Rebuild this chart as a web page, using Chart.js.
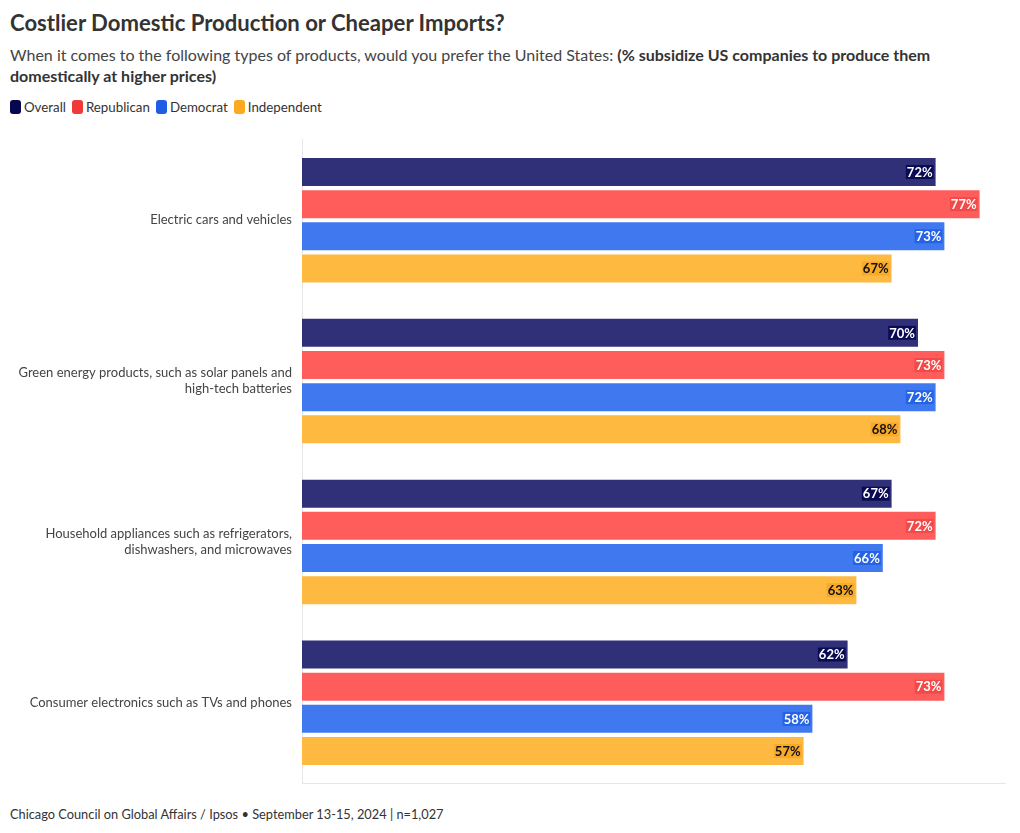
<!DOCTYPE html>
<html>
<head>
<meta charset="utf-8">
<script src="https://cdn.jsdelivr.net/npm/chart.js@4"></script>
<style>
  body { margin: 0; background: #fff; font-family: "Source Sans Pro", Lato, "Noto Sans", sans-serif; color: #333; }
  .wrap { position: relative; width: 1020px; height: 833px; }
  .title { position: absolute; left: 10px; top: 9px; font-size: 22.1px; font-weight: 700; color: #333; }
  .sub { position: absolute; left: 10px; top: 44px; font-size: 16px; line-height: 21px; color: #444; }
  .sub b { color: #333; }
  .legend { position: absolute; left: 10px; top: 99px; font-size: 13.3px; color: #333; display: flex; gap: 6px; }
  .legend span { display: inline-flex; align-items: center; }
  .legend i { display: inline-block; width: 11px; height: 14px; border-radius: 3px; margin-right: 3px; }
  .foot { position: absolute; left: 10px; top: 806px; font-size: 12.8px; color: #333; }
  .box { position: absolute; left: 0; top: 121.5px; width: 1006px; height: 679px; }
</style>
</head>
<body>
<div class="wrap">
  <div class="title">Costlier Domestic Production or Cheaper Imports?</div>
  <div class="sub">When it comes to the following types of products, would you prefer the United States: <b>(% subsidize US companies to produce them<br>domestically at higher prices)</b></div>
  <div class="legend" id="legend"></div>
  <div class="box"><canvas id="chart"></canvas></div>
  <div class="foot">Chicago Council on Global Affairs / Ipsos • September 13-15, 2024 | n=1,027</div>
</div>
<script>
const categories = [
  ["Electric cars and vehicles"],
  ["Green energy products, such as solar panels and", "high-tech batteries"],
  ["Household appliances such as refrigerators,", "dishwashers, and microwaves"],
  ["Consumer electronics such as TVs and phones"]
];
const seriesNames = ["Overall", "Republican", "Democrat", "Independent"];
const overall = [72, 70, 67, 62];
const republican = [77, 73, 72, 73];
const democrat = [73, 72, 66, 58];
const independent = [67, 68, 63, 57];

const barColors = ["#303079", "#ff5d5b", "#4079ef", "#fdb940"];
const legendColors = ["#07074f", "#f03a3a", "#1f5de6", "#fcab20"];
const labelBg = ["#0b0b55", "#f24a48", "#2563e6", "#f8a928"];
const labelText = ["#fff", "#fff", "#fff", "#111"];

// legend
const legendEl = document.getElementById("legend");
seriesNames.forEach((name, i) => {
  legendEl.innerHTML += `<span><i style="background:${legendColors[i]}"></i>${name}</span>`;
});

// value labels inside bar ends
const valueLabels = {
  id: "valueLabels",
  afterDatasetsDraw(chart) {
    const ctx = chart.ctx;
    ctx.save();
    ctx.font = "bold 13px 'Source Sans Pro', Lato, 'Noto Sans', sans-serif";
    ctx.textBaseline = "middle";
    ctx.textAlign = "right";
    chart.data.datasets.forEach((ds, di) => {
      chart.getDatasetMeta(di).data.forEach((bar, i) => {
        const txt = ds.data[i] + "%";
        const w = ctx.measureText(txt).width;
        const x = bar.x - 3;
        ctx.fillStyle = labelBg[di];
        ctx.fillRect(x - w - 1, bar.y - 7, w + 2, 14);
        ctx.fillStyle = labelText[di];
        ctx.fillText(txt, x, bar.y + 0.5);
      });
    });
    ctx.restore();
  }
};

new Chart(document.getElementById("chart"), {
  type: "bar",
  data: {
    labels: categories,
    datasets: [overall, republican, democrat, independent].map((d, i) => ({
      label: seriesNames[i],
      data: d,
      backgroundColor: barColors[i],
      categoryPercentage: 0.8,
      barPercentage: 0.87
    }))
  },
  options: {
    indexAxis: "y",
    responsive: true,
    maintainAspectRatio: false,
    animation: false,
    layout: { padding: { top: 0, left: 0, right: 0, bottom: 0 } },
    plugins: { legend: { display: false }, tooltip: { enabled: false } },
    scales: {
      x: {
        min: 0,
        max: 80,
        grid: { display: false },
        ticks: { display: false },
        border: { color: "#e6e6e6" },
        afterFit: (s) => { s.height = 0; }
      },
      y: {
        grid: { display: false, drawTicks: false },
        border: { color: "#e6e6e6" },
        ticks: {
          color: "#444",
          padding: 10,
          font: { size: 13, family: "'Source Sans Pro', Lato, 'Noto Sans', sans-serif" }
        },
        afterFit: (s) => { s.width = 302; }
      }
    }
  },
  plugins: [valueLabels]
});
</script>
</body>
</html>
